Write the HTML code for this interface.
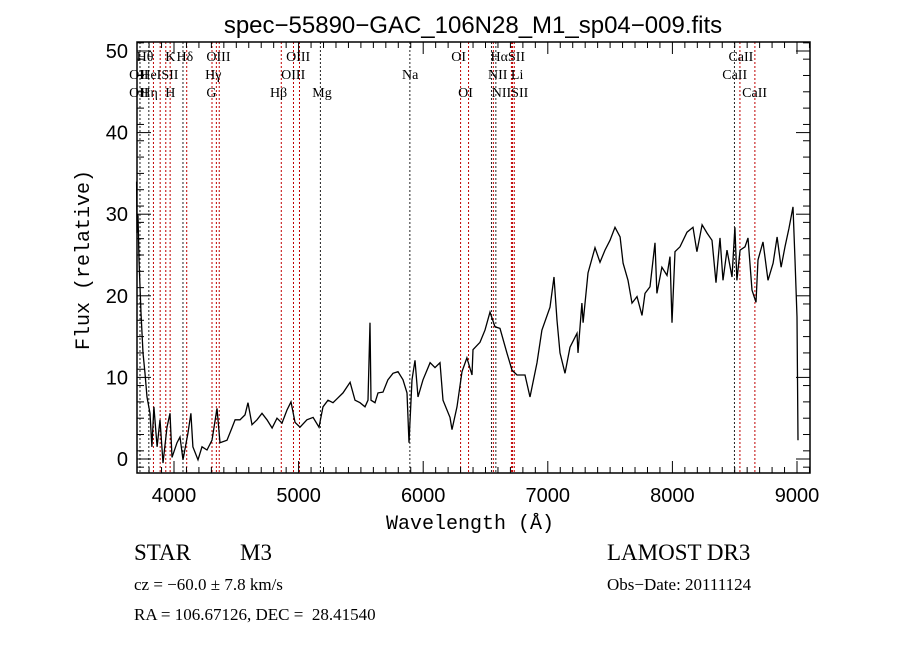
<!DOCTYPE html>
<html><head><meta charset="utf-8"><style>
html,body{margin:0;padding:0;background:#fff;}
svg{display:block;}
text{font-family:"Liberation Serif",serif;fill:#000;white-space:pre;}
</style></head><body>
<svg id="chart" width="900" height="649" viewBox="0 0 900 649" xmlns="http://www.w3.org/2000/svg">
<rect x="0" y="0" width="900" height="649" fill="#fff"/>
<text x="473" y="33" font-size="24" text-anchor="middle" style="font-family:'Liberation Sans',sans-serif">spec−55890−GAC_106N28_M1_sp04−009.fits</text>
<text transform="translate(89,260) rotate(-90)" font-size="20" text-anchor="middle" style="font-family:'Liberation Mono',monospace">Flux (relative)</text>
<text x="470" y="529" font-size="20" text-anchor="middle" style="font-family:'Liberation Mono',monospace">Wavelength (Å)</text>
<text x="134" y="560" font-size="23">STAR</text>
<text x="240" y="560" font-size="23">M3</text>
<text x="607" y="560" font-size="23">LAMOST DR3</text>
<text x="134" y="590" font-size="17">cz = −60.0 ± 7.8 km/s</text>
<text x="607" y="590" font-size="17">Obs−Date: 20111124</text>
<text x="134" y="620" font-size="17">RA = 106.67126, DEC =  28.41540</text>
<g id="plot"></g>
</svg>
<script>
const waves = [3700,3703,3711,3719,3735,3751,3767,3783,3807,3823,3839,3864,3888,3912,3944,3968,3984,4024,4048,4072,4112,4136,4152,4193,4225,4265,4305,4345,4369,4425,4465,4490,4530,4570,4594,4626,4666,4706,4746,4787,4827,4867,4907,4939,4971,5011,5067,5116,5164,5196,5236,5276,5316,5356,5413,5453,5493,5533,5557,5573,5581,5613,5637,5677,5717,5758,5798,5838,5870,5886,5910,5934,5958,5998,6055,6095,6135,6159,6215,6231,6271,6311,6351,6392,6400,6456,6496,6536,6576,6616,6672,6713,6753,6817,6857,6913,6953,7018,7050,7074,7098,7138,7178,7234,7242,7274,7283,7323,7379,7419,7459,7499,7539,7580,7604,7644,7676,7716,7756,7780,7820,7860,7876,7916,7957,7981,7997,8021,8061,8117,8165,8197,8238,8278,8318,8350,8382,8406,8438,8478,8502,8518,8543,8583,8607,8639,8671,8687,8727,8767,8808,8840,8872,8904,8936,8968,8984,9000,9008];
const fluxes = [34,27.7,30,24.4,17.9,13,10.5,7.6,5.6,1.5,6.4,1.5,4.8,-0.5,3.9,5.6,0.2,2,2.7,-0.1,3.2,5.6,1.5,-0.1,1.5,1.1,2.3,6.2,2,2.3,3.8,4.8,4.8,5.4,6.9,4.2,4.8,5.6,4.8,3.8,5,4.4,6,7,4.5,3.9,4.8,5.1,3.9,6.4,7.2,6.9,7.5,8.1,9.4,7.2,6.9,6.4,7.2,16.7,7.2,6.9,8.1,8.2,9.7,10.5,10.7,9.7,8.1,2,9.7,12.1,7.6,9.7,11.8,11.2,11.8,7.2,5.1,3.6,6.4,10.7,12.4,10.3,13.4,14.3,15.8,18,16.2,16,13,10.9,10.3,10.3,7.6,11.8,15.8,18.6,22.3,17,13,10.5,13.7,15.4,13,19.1,16.7,22.8,25.9,24.1,25.6,26.8,28.4,27.2,24,21.9,19.1,19.9,17.6,20.3,21.1,26.5,20.3,23.5,22.5,24.8,16.7,25.4,26,27.8,28.4,25.4,28.7,27.7,26.8,21.6,27.1,21.9,25.6,22.3,28.4,21.9,25.6,26,27.1,20.7,19.2,24.4,26.6,21.9,24,27.2,23.5,26,28.3,30.9,24.4,17.4,2.3];
const lineWaves = [3727,3798,3835,3889,3934,3969,4072,4102,4305,4340,4363,4861,4959,5007,5175,5893,6300,6364,6548,6563,6583,6708,6717,6731,8498,8542,8662];
const lineColors = ['k','k','r','r','r','r','k','r','r','r','r','r','r','r','k','k','r','r','k','r','k','r','r','r','k','r','r'];
const labelTexts = ['Hθ','K','Hδ','OIII','OIII','OI','HαSII','CaII','OII','HeISII','Hγ','OIII','Na','NII Li','CaII','OII','Hη','H','G','Hβ','Mg','OI','NIISII','CaII'];
const labelWaves = [3700,3930,4020,4260,4900,6225,6540,8450,3640,3730,4250,4860,5830,6520,8400,3640,3730,3930,4260,4770,5110,6280,6550,8560];
const labelRows = [0,0,0,0,0,0,0,0,1,1,1,1,1,1,1,2,2,2,2,2,2,2,2,2];
const xTicks = [4000,5000,6000,7000,8000,9000];
const yTicks = [0,10,20,30,40,50];

const X0=137,X1=810,Y0=42,Y1=473;
const xs = w => 174 + (w-4000)*0.1246;
const ys = f => 459 - f*8.16;
const NS='http://www.w3.org/2000/svg';
const g=document.getElementById('plot');
function mk(tag,attrs){const e=document.createElementNS(NS,tag);for(const k in attrs)e.setAttribute(k,attrs[k]);g.appendChild(e);return e;}

lineWaves.forEach((w,i)=>{
  const l=mk('line',{x1:xs(w),x2:xs(w),y1:Y0,y2:Y1,stroke:lineColors[i]==='r'?'#c00000':'#222','stroke-width':1,'stroke-dasharray':'2,2'});
  
  
});
labelTexts.forEach((t,i)=>{
  const e=mk('text',{x:xs(labelWaves[i]),y:61+labelRows[i]*18,'font-size':14});
  e.textContent=t;
  
  
});

const d=waves.map((w,i)=>(i?'L':'M')+xs(w).toFixed(1)+','+Math.min(Y1,Math.max(Y0,ys(fluxes[i]))).toFixed(1)).join('');
const sp=mk('path',{d:d,fill:'none',stroke:'#000','stroke-width':1.3});



const fr=mk('rect',{x:X0,y:Y0,width:X1-X0,height:Y1-Y0,fill:'none',stroke:'#000','stroke-width':1.5});



for(let w=3700;w<=9100;w+=100){
  const x=xs(w); if(x<X0||x>X1)continue;
  const major=w%1000===0, len=major?12:6;
  mk('line',{x1:x,x2:x,y1:Y1,y2:Y1-len,stroke:'#000'});
  mk('line',{x1:x,x2:x,y1:Y0,y2:Y0+len,stroke:'#000'});
}
xTicks.forEach(w=>{
  const e=mk('text',{x:xs(w),y:502,'font-size':20,'text-anchor':'middle',style:"font-family:'Liberation Sans',sans-serif"});
  e.textContent=w;
  
  
});
for(let f=-1;f<=51;f+=2){
  const y=ys(f); if(y<Y0||y>Y1)continue;
  mk('line',{x1:X0,x2:X0+7,y1:y,y2:y,stroke:'#000'});
  mk('line',{x1:X1,x2:X1-7,y1:y,y2:y,stroke:'#000'});
}
for(let f=0;f<=50;f+=10){
  const y=ys(f);
  mk('line',{x1:X0,x2:X0+14,y1:y,y2:y,stroke:'#000'});
  mk('line',{x1:X1,x2:X1-14,y1:y,y2:y,stroke:'#000'});
}
yTicks.forEach(f=>{
  const e=mk('text',{x:128,y:ys(f)+7,'font-size':20,'text-anchor':'end',style:"font-family:'Liberation Sans',sans-serif"});
  e.textContent=f;
  
  
});
</script>
</body></html>
